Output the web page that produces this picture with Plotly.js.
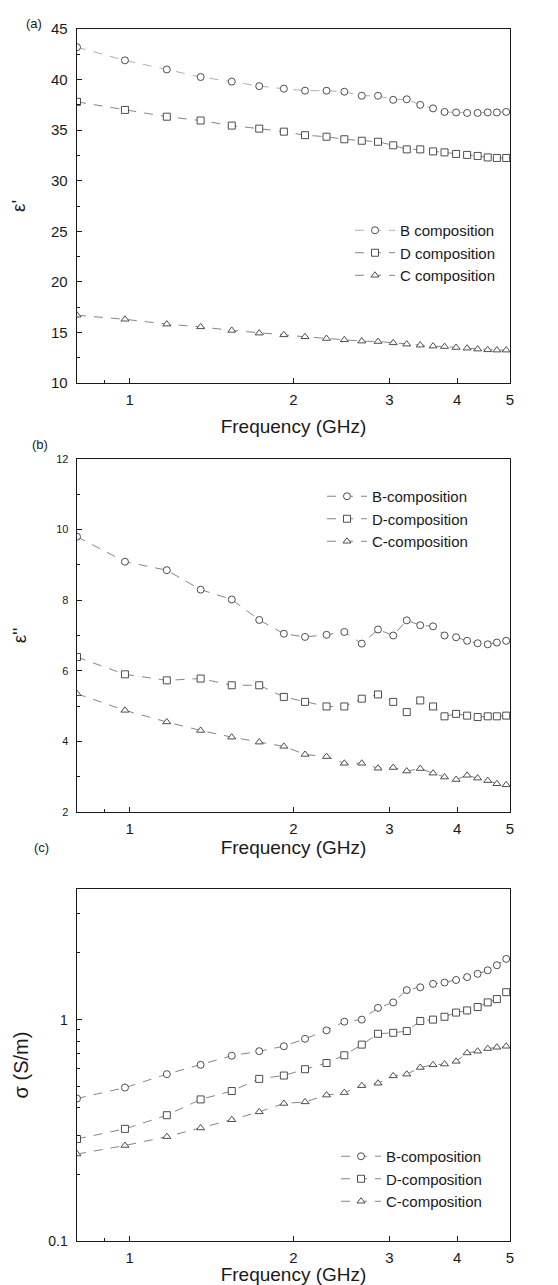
<!DOCTYPE html>
<html>
<head>
<meta charset="utf-8">
<script src="https://cdn.plot.ly/plotly-3.0.1.min.js"></script>
<style>
html,body{margin:0;padding:0;background:#fff;}
#chart{width:558px;height:1285px;}
</style>
</head>
<body>
<div id="chart"></div>
<script>
// Frequency (GHz) of each measured point
const freqGHz = [0.80, 0.98, 1.17, 1.35, 1.54, 1.73, 1.92, 2.10, 2.30, 2.48, 2.67, 2.86, 3.05, 3.23, 3.42, 3.61, 3.79, 3.98, 4.17, 4.36, 4.55, 4.73, 4.92];

// (a) real permittivity
const epsRealB = [43.2, 41.9, 41.0, 40.25, 39.8, 39.35, 39.1, 38.9, 38.9, 38.8, 38.4, 38.4, 38.0, 38.05, 37.5, 37.15, 36.8, 36.75, 36.7, 36.7, 36.75, 36.75, 36.8];
const epsRealD = [37.8, 37.0, 36.33, 35.95, 35.45, 35.15, 34.85, 34.5, 34.35, 34.1, 33.95, 33.85, 33.5, 33.1, 33.1, 32.9, 32.8, 32.65, 32.55, 32.45, 32.3, 32.25, 32.25];
const epsRealC = [16.7, 16.3, 15.82, 15.55, 15.2, 14.93, 14.76, 14.57, 14.4, 14.27, 14.14, 14.1, 13.97, 13.84, 13.74, 13.65, 13.6, 13.51, 13.44, 13.35, 13.28, 13.25, 13.25];

// (b) imaginary permittivity
const epsImagB = [9.8, 9.09, 8.85, 8.30, 8.02, 7.44, 7.05, 6.96, 7.02, 7.1, 6.77, 7.17, 7.0, 7.43, 7.29, 7.26, 7.0, 6.95, 6.85, 6.78, 6.75, 6.8, 6.85];
const epsImagD = [6.39, 5.9, 5.73, 5.78, 5.59, 5.59, 5.26, 5.12, 4.99, 4.99, 5.21, 5.33, 5.12, 4.83, 5.16, 4.99, 4.71, 4.78, 4.73, 4.69, 4.71, 4.71, 4.73];
const epsImagC = [5.35, 4.88, 4.55, 4.31, 4.12, 3.98, 3.86, 3.63, 3.57, 3.38, 3.38, 3.24, 3.26, 3.16, 3.23, 3.10, 2.99, 2.92, 3.04, 2.96, 2.89, 2.80, 2.77];

// (c) conductivity (S/m)
const sigmaB = [0.44, 0.493, 0.567, 0.625, 0.687, 0.72, 0.758, 0.819, 0.894, 0.979, 1.0, 1.13, 1.196, 1.36, 1.40, 1.45, 1.47, 1.51, 1.556, 1.61, 1.67, 1.76, 1.88];
const sigmaD = [0.289, 0.321, 0.37, 0.436, 0.476, 0.54, 0.559, 0.597, 0.637, 0.69, 0.771, 0.863, 0.872, 0.888, 0.986, 1.0, 1.03, 1.076, 1.10, 1.14, 1.196, 1.238, 1.33];
const sigmaC = [0.247, 0.27, 0.296, 0.324, 0.353, 0.383, 0.418, 0.425, 0.456, 0.468, 0.503, 0.516, 0.557, 0.567, 0.608, 0.625, 0.63, 0.648, 0.707, 0.72, 0.74, 0.75, 0.758];

const namesA = ["B composition", "D composition", "C composition"];
const namesBC = ["B-composition", "D-composition", "C-composition"];
const xTickVals = [1, 2, 3, 4, 5];

const FONT = "Liberation Sans, Arial, sans-serif";
const INK = "#1a1a1a";

function series(x, y, name, symbol, xa, ya, legend, lineColor) {
  return {
    type: "scatter", mode: "lines+markers",
    x: x, y: y, name: name,
    xaxis: xa, yaxis: ya, legend: legend,
    cliponaxis: true,
    line: {color: lineColor || "#666", width: 0.8, dash: "9px,8px"},
    marker: {symbol: symbol, size: 7, color: "#ffffff", line: {color: "#3a3a3a", width: 0.9}}
  };
}

const traces = [
  series(freqGHz, epsRealB, namesA[0], "circle", "x", "y", "legend", "#9a9a9a"),
  series(freqGHz, epsRealD, namesA[1], "square", "x", "y", "legend"),
  series(freqGHz, epsRealC, namesA[2], "triangle-up", "x", "y", "legend"),
  series(freqGHz, epsImagB, namesBC[0], "circle", "x2", "y2", "legend2"),
  series(freqGHz, epsImagD, namesBC[1], "square", "x2", "y2", "legend2"),
  series(freqGHz, epsImagC, namesBC[2], "triangle-up", "x2", "y2", "legend2"),
  series(freqGHz, sigmaB, namesBC[0], "circle", "x3", "y3", "legend3"),
  series(freqGHz, sigmaD, namesBC[1], "square", "x3", "y3", "legend3"),
  series(freqGHz, sigmaC, namesBC[2], "triangle-up", "x3", "y3", "legend3")
];

const W = 558, H = 1285;
const xDom = [77 / W, 510 / W];
function yDom(top, bottom) { return [1 - bottom / H, 1 - top / H]; }

function xAxis(anchor, standoff) {
  return {
    type: "log", range: [Math.log10(0.8), Math.log10(5)], domain: xDom, anchor: anchor,
    tickmode: "array", tickvals: xTickVals, ticktext: xTickVals.map(String),
    ticks: "inside", ticklen: 5, tickwidth: 1, tickcolor: INK,
    minor: {tickmode: "array", tickvals: [0.9], ticks: "inside", ticklen: 3, tickcolor: INK},
    showline: true, linewidth: 1.4, linecolor: INK, mirror: true,
    showgrid: false, zeroline: false,
    tickfont: {family: FONT, size: 15, color: INK},
    ticklabelstandoff: 3,
    title: {text: "Frequency (GHz)", font: {family: FONT, size: 19, color: INK}, standoff: standoff}
  };
}

function legendBox(x, y) {
  return {
    x: x, y: y, xanchor: "left", yanchor: "top",
    bgcolor: "rgba(0,0,0,0)", borderwidth: 0,
    font: {family: FONT, size: 15, color: INK},
    itemwidth: 40, tracegroupgap: 0, traceorder: "normal"
  };
}

const layout = {
  width: W, height: H,
  margin: {l: 0, r: 0, t: 0, b: 0},
  paper_bgcolor: "#ffffff", plot_bgcolor: "#ffffff",
  showlegend: true,
  xaxis: xAxis("y", 12),
  xaxis2: xAxis("y2", 2),
  xaxis3: xAxis("y3", 2),
  yaxis: {
    domain: yDom(29, 383), anchor: "x", range: [10, 45],
    tickmode: "linear", tick0: 10, dtick: 5,
    ticks: "inside", ticklen: 5, tickcolor: INK,
    minor: {dtick: 2.5, ticks: "inside", ticklen: 3, tickcolor: INK},
    showline: true, linewidth: 1.4, linecolor: INK, mirror: true,
    showgrid: false, zeroline: false,
    tickfont: {family: FONT, size: 15, color: INK}, ticklabelstandoff: 5,
    title: {text: "ε'", font: {family: FONT, size: 19, color: INK}, standoff: 20}
  },
  yaxis2: {
    domain: yDom(459, 812), anchor: "x2", range: [2, 12],
    tickmode: "linear", tick0: 2, dtick: 2,
    ticks: "inside", ticklen: 5, tickcolor: INK,
    minor: {dtick: 1, ticks: "inside", ticklen: 3, tickcolor: INK},
    showline: true, linewidth: 1.4, linecolor: INK, mirror: true,
    showgrid: false, zeroline: false,
    tickfont: {family: FONT, size: 11, color: INK}, ticklabelstandoff: 5,
    title: {text: "ε''", font: {family: FONT, size: 19, color: INK}, standoff: 24}
  },
  yaxis3: {
    type: "log", domain: yDom(889, 1241), anchor: "x3", range: [-1, 0.59],
    tickmode: "array", tickvals: [0.1, 1], ticktext: ["0.1", "1"],
    ticks: "inside", ticklen: 5, tickcolor: INK,
    minor: {tickmode: "array", tickvals: [0.2, 0.3, 0.4, 0.5, 0.6, 0.7, 0.8, 0.9, 2, 3], ticks: "inside", ticklen: 3, tickcolor: INK},
    showline: true, linewidth: 1.4, linecolor: INK, mirror: true,
    showgrid: false, zeroline: false,
    tickfont: {family: FONT, size: 14, color: INK}, ticklabelstandoff: 5,
    title: {text: "σ (S/m)", font: {family: FONT, size: 20, color: INK}, standoff: 14}
  },
  legend: legendBox(350 / W, 1 - 214 / H),
  legend2: legendBox(322 / W, 1 - 480 / H),
  legend3: legendBox(336 / W, 1 - 1140 / H),
  annotations: [
    {text: "(a)", xref: "paper", yref: "paper", x: 24 / W, y: 1 - 14 / H, showarrow: false, font: {family: FONT, size: 13, color: INK}},
    {text: "(b)", xref: "paper", yref: "paper", x: 30 / W, y: 1 - 444 / H, showarrow: false, font: {family: FONT, size: 13, color: INK}},
    {text: "(c)", xref: "paper", yref: "paper", x: 32 / W, y: 1 - 857 / H, showarrow: false, font: {family: FONT, size: 13, color: INK}}
  ]
};

Plotly.newPlot("chart", traces, layout, {staticPlot: true, displayModeBar: false});
</script>
</body>
</html>
